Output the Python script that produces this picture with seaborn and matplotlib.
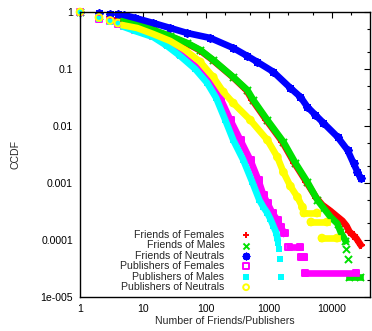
import numpy as np
import pandas as pd
import matplotlib
matplotlib.use("Agg")
import matplotlib.pyplot as plt
import seaborn as sns
from matplotlib.ticker import LogLocator, NullFormatter

# ---------------- data ----------------
series_names = ["Friends of Females", "Friends of Males", "Friends of Neutrals",
                "Publishers of Females", "Publishers of Males", "Publishers of Neutrals"]

# Friends of Females (red)
ff_x = [1, 2, 3, 4, 5, 7.5, 14.5, 27, 50, 80.9, 130, 270, 436, 542, 906, 1627, 2525, 3917,
        5650, 7030, 9430, 11700, 14600, 16900, 18900, 21900, 24400, 28300]
ff_y = [1, 0.868, 0.824, 0.785, 0.745, 0.660, 0.477, 0.372, 0.280, 0.211, 0.141, 0.0710,
        0.0428, 0.0286, 0.0127, 0.00527, 0.00224, 0.00104, 0.000545, 0.000411, 0.000323,
        0.000265, 0.000217, 0.000178, 0.000140, 0.000120, 0.000106, 0.0000826]
ff_seg = [0] * 28

# Friends of Males (green)
fm_x = [1, 2, 3, 4, 5, 7.5, 14.5, 27, 50, 80.9, 130, 270, 452, 562, 940, 1690, 2620, 4060,
        5860, 7300, 9430, 12200, 13600, 16300, 16900, 17600, 18600, 27800]
fm_y = [1, 0.868, 0.834, 0.794, 0.754, 0.668, 0.483, 0.379, 0.286, 0.216, 0.144, 0.0723,
        0.0428, 0.0286, 0.0127, 0.00527, 0.00224, 0.00104, 0.000503, 0.000366, 0.000255,
        0.000193, 0.000140, 0.0000973, 0.0000705, 0.0000470, 0.0000224, 0.0000224]
fm_seg = [0] * 24 + [1, 2, 3, 3]

# Friends of Neutrals (blue)
fn_x = [1, 2, 3, 4, 5, 7.5, 14.5, 27, 50, 117, 270, 452, 651, 1170, 2180, 3150, 4060, 5450,
        7300, 12200, 17600, 21900, 25300, 28300]
fn_y = [1, 0.98, 0.941, 0.911, 0.886, 0.785, 0.641, 0.524, 0.428, 0.350, 0.234, 0.169,
        0.133, 0.0891, 0.0465, 0.0323, 0.0216, 0.0156, 0.0113, 0.00644, 0.00378, 0.00222,
        0.00157, 0.00122]
fn_seg = [0] * 24

# Publishers of Females (magenta)
pf_x = [1, 2, 3, 4, 5, 7.5, 14.5, 24.2, 38.9, 67.3, 104.5, 168, 243, 350, 505, 676, 812,
        940, 1128, 1355, 1513, 1750, 2065, 3090, 3320, 3570, 3710, 24000]
pf_y = [1, 0.754, 0.695, 0.628, 0.568, 0.483, 0.379, 0.275, 0.183, 0.113, 0.0668, 0.031,
        0.0127, 0.00568, 0.00253, 0.00113, 0.000616, 0.000446, 0.000298, 0.000224,
        0.000169, 0.000133, 0.0000754, 0.0000754, 0.0000503, 0.0000503, 0.0000264, 0.0000264]
pf_seg = [0] * 22 + [1, 1, 2, 2, 3, 3]

# Publishers of Males (cyan)
pm_x = [1, 2, 3, 4, 5, 7.5, 14.5, 24.2, 38.9, 67.3, 104.5, 145, 202, 270, 390, 542, 701,
        812, 940, 1050, 1170, 1306, 1355, 1406, 1458, 1513, 1570]
pm_y = [1, 0.754, 0.681, 0.604, 0.546, 0.464, 0.364, 0.253, 0.169, 0.1, 0.0568, 0.031,
        0.0127, 0.00568, 0.00253, 0.00104, 0.000503, 0.000379, 0.000298, 0.000234,
        0.000176, 0.000133, 0.000108, 0.0000886, 0.0000695, 0.0000465, 0.0000224]
pm_seg = [0] * 23 + [1, 2, 3, 4]

# Publishers of Neutrals (yellow)
pn_x = [1, 2, 3, 4, 5, 8.06, 14.5, 27, 46.7, 80.9, 130, 188, 270, 505, 940, 1355, 1690,
        2180, 2820, 3385, 3575, 5750, 4620, 8300, 6910, 11970]
pn_y = [1, 0.801, 0.709, 0.641, 0.580, 0.524, 0.411, 0.310, 0.216, 0.133, 0.0723, 0.0396,
        0.0253, 0.0127, 0.00568, 0.00286, 0.00155, 0.000882, 0.000567, 0.000378,
        0.000298, 0.000298, 0.000207, 0.000207, 0.000108, 0.000108]
pn_seg = [0] * 20 + [1, 1, 2, 2, 3, 3]

x_ticks = [1, 10, 100, 1000, 10000]
x_tick_labels = ["1", "10", "100", "1000", "10000"]
y_ticks = [1e-5, 1e-4, 1e-3, 1e-2, 1e-1, 1]
y_tick_labels = ["1e-005", "0.0001", "0.001", "0.01", "0.1", "1"]

# ---------------- build table ----------------
frames = []
for name, xs, ys, sg in zip(series_names,
                            [ff_x, fm_x, fn_x, pf_x, pm_x, pn_x],
                            [ff_y, fm_y, fn_y, pf_y, pm_y, pn_y],
                            [ff_seg, fm_seg, fn_seg, pf_seg, pm_seg, pn_seg]):
    frames.append(pd.DataFrame({"x": xs, "y": ys, "seg": sg, "series": name}))
df = pd.concat(frames, ignore_index=True)

# ---------------- style ----------------
sns.set_style("white")
plt.rcParams["font.family"] = ["Liberation Sans", "DejaVu Sans"]
FS = 7.6

colors = ["#ff0000", "#00e000", "#0000ff", "#ff00ff", "#00ffff", "#ffff00"]
markers = ["+", "x", (8, 2, 0), "s", "s", "o"]
filled = [None, None, None, False, True, False]

fig = plt.figure(figsize=(3.72, 3.31), dpi=100)
ax = fig.add_axes([80 / 372, 1 - 297 / 331, 290 / 372, 285 / 331])

LW = 4.8
for name, col, mk, fl in zip(series_names, colors, markers, filled):
    sub = df[df["series"] == name]
    band = sub[sub["x"] >= 5]
    sns.lineplot(data=band, x="x", y="y", units="seg", estimator=None, sort=False,
                 color=col, linewidth=LW, solid_capstyle="projecting", ax=ax, legend=False)
    if fl is None:
        sns.scatterplot(data=sub, x="x", y="y", marker=mk, color=col, s=26,
                        linewidth=1.4, ax=ax, label=name, clip_on=False)
    elif fl:
        sns.scatterplot(data=sub, x="x", y="y", marker=mk, color=col, s=24,
                        linewidth=0, ax=ax, label=name, clip_on=False)
    else:
        sns.scatterplot(data=sub, x="x", y="y", marker=mk, s=24, facecolors="none",
                        edgecolor=col, linewidth=1.4, ax=ax, label=name, clip_on=False)

ax.set_xscale("log")
ax.set_yscale("log")
ax.set_xlim(1, 40000)
ax.set_ylim(1e-5, 1)
ax.set_xticks(x_ticks, x_tick_labels)
ax.set_yticks(y_ticks, y_tick_labels)
ax.xaxis.set_minor_locator(LogLocator(base=10, subs=(2, 5)))
ax.yaxis.set_minor_locator(LogLocator(base=10, subs=(2, 5)))
ax.xaxis.set_minor_formatter(NullFormatter())
ax.yaxis.set_minor_formatter(NullFormatter())
ax.tick_params(which="both", direction="in", top=True, right=True, colors="black",
               labelsize=FS, width=0.8)
ax.tick_params(which="major", length=4.0)
ax.tick_params(which="minor", length=2.2)
ax.tick_params(axis="y", pad=5)
ax.tick_params(axis="x", pad=5)
for sp in ax.spines.values():
    sp.set_color("black")
    sp.set_linewidth(1.0)

ax.set_xlabel("Number of Friends/Publishers", fontsize=FS)
ax.set_ylabel("CCDF", fontsize=FS)
ax.xaxis.set_label_coords(0.5, -0.068)
ax.yaxis.set_label_coords(-0.205, 0.5)

h, l = ax.get_legend_handles_labels()
pairs = [(hh, ll) for hh, ll in zip(h, l) if ll in series_names]
leg = ax.legend([p[0] for p in pairs], [p[1] for p in pairs], frameon=False,
                markerfirst=False, loc="lower right",
                bbox_to_anchor=(254 / 372, (331 - 292) / 331), bbox_transform=fig.transFigure,
                borderpad=0, borderaxespad=0, handlelength=1.5, handletextpad=1.3,
                labelspacing=0.04, fontsize=FS, markerscale=0.85)

fig.savefig("out.png", dpi=100)
